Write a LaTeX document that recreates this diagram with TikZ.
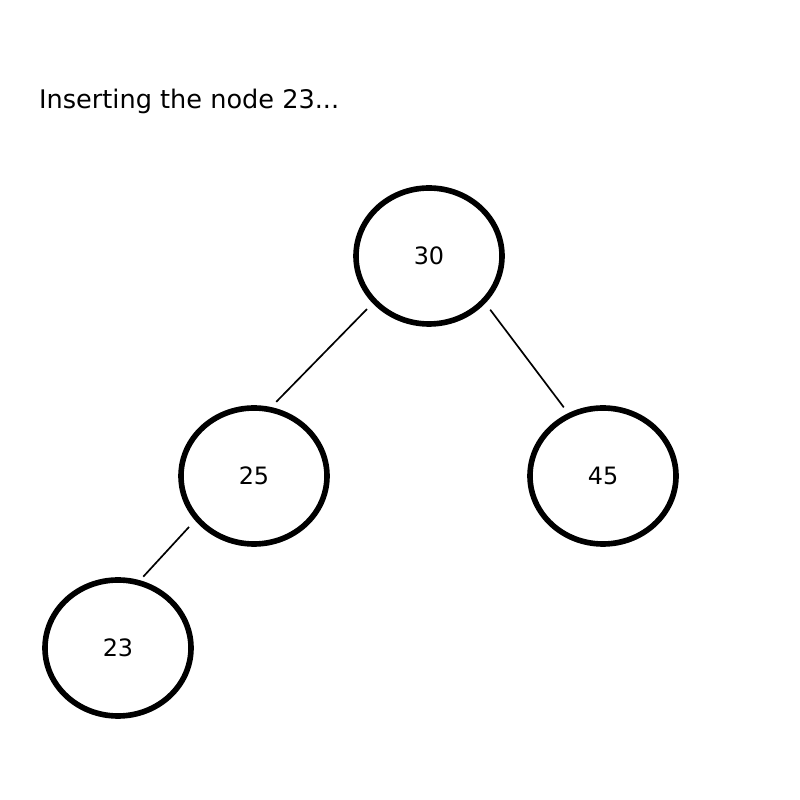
\documentclass[tikz,border=0pt]{standalone}
\usepackage{fontspec}
\setmainfont{DejaVu Sans}
\usetikzlibrary{positioning,shapes.geometric}
\tikzset{font=\fontsize{17}{20}\selectfont}

\begin{document}
\begin{tikzpicture}
	\useasboundingbox (0, 0) rectangle (20, 20);
	\node[anchor=base west, inner sep=0pt, font=\fontsize{18.2}{21}\selectfont] (title) at (0.97, 17.28) {Inserting the node 23...};
	\begin{scope}
		\tikzstyle{every node}=[ellipse, draw, line width=4pt, minimum width=3.65cm, minimum height=3.4cm, inner sep=0pt]
		\node (n30) at (10.725, 13.6) {30};
		\node (n25) at (6.35, 8.1) {25};
		\node (n45) at (15.075, 8.1) {45};
		\node (n23) at (2.95, 3.8) {23};

		\draw[line width=1.2pt, shorten <=0.2cm, shorten >=0.18cm](n30.220) -- (n25.76);
		\draw[line width=1.2pt, shorten <=0.2cm, shorten >=0.18cm](n30.320) -- (n45.119);
		\draw[line width=1.2pt, shorten <=0.22cm, shorten >=0.12cm](n25.217) -- (n23.72);
	\end{scope}
\end{tikzpicture}
\end{document}
